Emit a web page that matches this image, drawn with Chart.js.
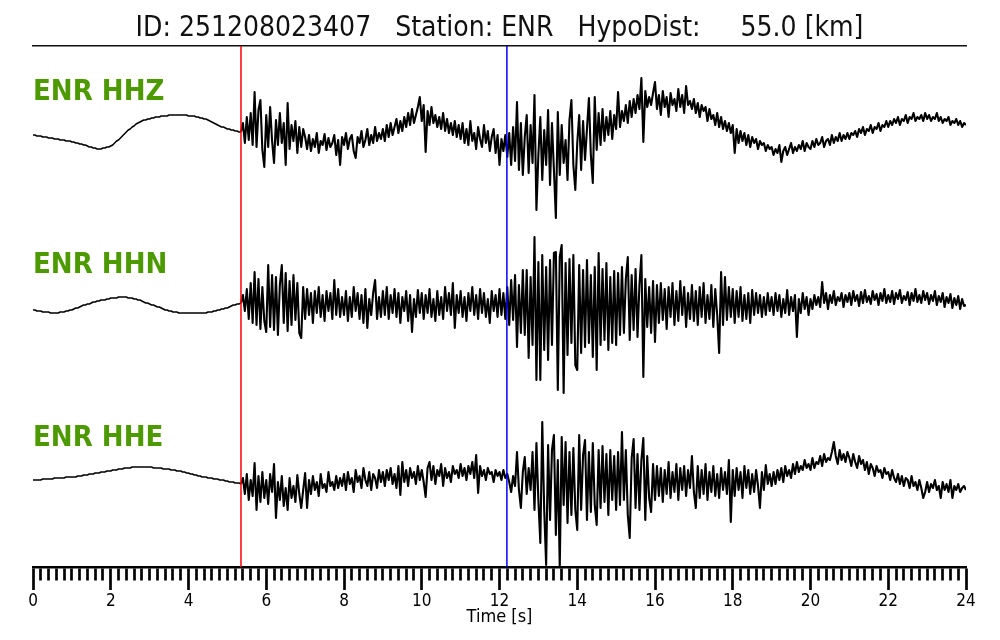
<!DOCTYPE html>
<html>
<head>
<meta charset="utf-8">
<script src="https://cdn.jsdelivr.net/npm/chart.js@4.4.1/dist/chart.umd.min.js"></script>
<style>
    html, body { margin: 0; padding: 0; background: #fff; }
    #wrap { width: 1000px; height: 640px; position: relative; }
</style>
</head>
<body>
<div id="wrap"><canvas id="myChart"></canvas></div>
<script>
const titleText = 'ID: 251208023407   Station: ENR   HypoDist:     55.0 [km]';
const axisTitle = 'Time [s]';
const channelNames = ['ENR HHZ', 'ENR HHN', 'ENR HHE'];

const sampleRate = 20;   // samples per second
const timeMin = 0;
const timeMax = 24;
const pPick = 5.35;      // red marker
const sPick = 12.19;     // blue marker

// amplitudes, one row per second
const hhz = [
    0,0,-1,-1,-1,-2,-2,-2,-3,-3,-3,-4,-4,-4,-5,-5,-5,-6,-6,-6,
    -7,-7,-8,-8,-9,-9,-10,-10,-11,-12,-12,-13,-13,-14,-14,-14,-13,-13,-12,-12,
    -11,-10,-8,-6,-5,-3,-1,1,3,5,6,8,9,11,12,13,14,15,15,16,
    16,17,17,18,18,18,19,19,19,19,20,20,20,20,20,20,20,20,20,20,
    19,19,19,19,18,18,17,17,16,16,15,14,13,12,11,10,9,8,8,7,
    6,6,5,5,4,4,3,3,12,-8,18,-5,22,-10,43,-12,25,35,-15,-32,
    20,-12,28,-6,-28,15,-10,22,-8,12,-30,32,-14,10,-6,14,-18,8,-12,6,
    -2,-14,0,-16,-4,-12,2,-18,-6,-10,1,-15,-3,-12,-8,0,-20,-5,-30,-2,
    -10,2,-14,-4,0,-16,-23,-2,-8,4,-12,-5,6,-10,0,-8,8,-6,2,-4,
    6,-6,10,-2,12,0,8,16,2,14,4,18,8,22,10,26,12,20,28,38,
    14,30,-17,24,10,28,12,20,8,18,6,22,4,16,2,12,0,14,-2,10,
    -4,12,-8,6,-10,14,-6,2,-14,8,-4,-12,10,-8,4,-16,-2,6,-18,0,
    -30,-4,-16,0,-22,2,-30,8,-26,33,-35,12,-40,-2,20,-38,10,-28,40,-75,
    -20,18,-45,5,-30,25,-50,12,-35,-83,23,-40,10,-28,-5,-45,15,35,-30,-55,
    -8,20,-35,14,-25,6,37,-20,-48,38,-15,22,-10,26,-6,18,0,24,-4,20,
    6,43,8,24,14,30,12,34,18,36,22,40,26,57,-7,44,28,38,30,42,
    53,26,40,20,44,28,38,18,42,30,36,24,46,28,40,22,49,30,34,26,
    36,22,32,18,30,24,28,14,26,16,20,10,22,8,18,6,14,4,12,2,
    10,-18,6,-8,4,-6,2,-10,0,-12,-2,-8,-4,-14,-6,-10,-8,-16,-10,-14,
    -12,-20,-14,-18,-10,-27,-16,-12,-20,-14,-8,-18,-12,-16,-10,-14,-6,-16,-8,-12,
    -14,-6,-12,-4,-10,-8,-2,-12,-6,-4,-10,0,-8,-2,-6,2,-6,0,-4,2,
    -4,2,0,4,-2,6,2,8,0,6,4,10,2,8,6,12,4,10,8,14,
    8,14,10,16,12,18,10,16,14,20,12,18,16,22,14,18,16,20,14,22,
    16,20,14,18,16,22,14,18,12,16,14,18,10,14,12,16,10,14,8,12,
    10
];

const hhn = [
    -5,-5,-6,-6,-6,-7,-7,-7,-7,-8,-8,-8,-8,-8,-7,-7,-7,-6,-6,-5,
    -5,-4,-3,-3,-2,-1,0,0,1,1,2,3,3,4,4,5,5,5,6,6,
    7,7,7,7,8,8,8,8,8,7,7,7,6,6,5,5,4,3,2,2,
    1,0,0,-1,-2,-2,-3,-4,-5,-5,-6,-6,-7,-7,-7,-8,-8,-8,-8,-8,
    -8,-8,-8,-8,-8,-8,-8,-8,-8,-8,-7,-7,-7,-6,-6,-5,-5,-4,-4,-3,
    -3,-2,-1,0,0,1,1,2,10,-6,16,-14,22,-18,33,-20,26,-24,18,-16,
    -27,40,-22,30,-25,28,-30,20,40,-18,32,-26,24,-20,30,-15,22,-28,-33,18,
    -14,16,-10,12,-18,14,-8,18,-12,10,-16,14,-6,12,-14,25,-10,16,-12,8,
    -10,14,-16,8,-12,18,-6,12,-14,10,-18,16,-23,6,-10,12,25,-14,8,-12,
    14,-10,18,-14,10,-8,16,-12,12,-18,8,-6,14,-16,10,-27,6,-12,15,-8,
    12,-14,10,-8,16,-12,6,-16,14,-10,8,-14,18,-6,12,-10,22,-23,10,-8,
    14,-12,8,-16,12,-6,18,-10,10,-14,16,-8,12,-12,6,-18,14,-6,10,-12,
    16,-10,12,-14,18,-20,25,-15,30,-42,20,-28,35,-30,35,-53,28,-40,68,-75,
    43,-75,50,-45,38,-55,45,-40,52,53,-85,48,60,-88,42,-50,46,-38,50,-60,
    -65,40,-48,35,-42,45,-38,30,-52,38,-65,52,-40,36,-35,42,-45,28,-38,34,
    -40,32,-30,38,-28,26,48,-35,30,-25,36,-32,20,50,-72,26,-22,18,-28,24,
    -37,20,-18,22,-15,16,-24,18,-12,22,-20,14,-16,24,-10,18,-22,12,-14,20,
    -16,14,-20,18,-12,22,-18,10,-14,20,-22,16,-10,-48,33,-20,28,-15,18,-12,
    16,-18,14,-12,18,-16,10,-14,12,-18,15,-10,12,-8,10,-12,8,-10,12,-6,
    8,-10,12,-6,10,-12,6,-8,15,-10,8,-6,10,-32,6,-8,12,-4,8,-10,
    6,-4,10,0,8,-2,23,2,12,-4,10,2,14,0,8,4,12,-2,10,3,
    12,0,14,4,10,-1,13,2,15,3,9,1,14,5,11,0,12,4,16,2,
    10,3,14,1,12,6,15,2,9,5,13,0,12,4,16,3,10,2,14,5,
    12,1,10,4,14,0,9,3,12,-2,8,2,11,-3,7,0,9,-4,6,-1,
    0
];

const hhe = [
    0,0,0,0,0,1,1,1,1,1,1,2,2,2,2,2,2,3,3,3,
    3,3,3,4,4,4,5,5,5,6,6,6,7,7,7,8,8,8,9,9,
    9,10,10,10,11,11,11,12,12,12,12,13,13,13,13,13,13,13,13,13,
    13,13,12,12,12,12,12,11,11,11,11,10,10,10,9,9,9,8,8,7,
    7,6,6,5,5,4,4,3,3,3,2,2,2,1,1,1,0,0,0,-1,
    -1,-2,-2,-2,-3,-3,-3,-4,2,-14,6,-20,0,-16,17,-30,4,-22,8,-18,
    0,-24,6,-12,16,-38,-2,-20,4,-26,-8,-30,2,-18,-6,-22,5,-14,-28,-10,
    7,-28,0,-14,4,-10,-2,-16,6,-8,-4,-12,8,-6,-2,-10,4,-8,2,-6,
    6,-10,8,-4,2,-12,10,-2,4,-8,12,0,-6,8,-10,6,2,-8,10,-2,
    8,-6,10,0,12,-4,6,-8,14,-15,18,-2,10,-6,12,2,8,-4,14,0,
    10,-2,-17,12,18,0,14,-4,10,4,16,-6,12,2,8,-2,14,6,10,2,
    16,4,12,0,14,6,18,2,25,-13,14,4,10,0,12,6,8,-2,10,4,
    8,0,10,2,6,-2,-12,4,-6,28,-10,-28,8,23,-14,12,-10,28,-30,37,
    -20,-63,58,-30,-85,35,-40,30,45,-55,20,-87,43,-25,38,-43,28,-35,32,-30,
    -50,45,-30,25,40,-40,28,-32,37,-25,-45,30,-28,34,-22,26,-35,30,-20,24,
    -30,28,-25,48,-20,30,-35,-58,22,41,-28,26,-30,20,42,-40,24,-18,-32,16,
    -20,14,-16,12,-22,10,-14,18,-18,8,-12,16,-20,12,-10,14,-16,10,-8,24,
    -12,-28,14,-18,10,-14,16,-20,8,-12,14,-16,6,-18,12,-10,8,-14,20,-42,
    10,-16,12,-10,8,-18,14,-8,10,-14,6,-12,10,-6,-28,8,-10,15,-4,6,
    -6,8,-4,10,0,12,-2,14,4,10,2,16,6,18,8,14,10,20,12,16,
    10,22,12,18,16,24,14,26,18,22,20,28,38,24,16,30,20,26,18,28,
    22,14,26,18,12,24,16,20,10,18,6,16,12,4,14,8,10,2,12,6,
    8,0,10,2,-2,6,-4,4,-6,2,0,-8,4,-6,-2,-10,0,-8,-18,-12,
    -2,-12,-4,-8,0,-10,-6,-18,-2,-10,-4,-12,0,-18,-6,-10,-4,-12,-8,-6,
    -10
];

// vertical stacking of the three traces on the hidden y axis
const plotHeight = 521;
const traceBase = [432, 262, 87];
const labelLift = [43, 40, 42];

const fontFamily = "'DejaVu Sans Condensed', 'DejaVu Sans', sans-serif";
Chart.defaults.font.family = fontFamily;
Chart.defaults.color = '#000';

function toPoints(values, base) {
    return values.map((v, i) => ({ x: i / sampleRate, y: base + v }));
}

function pickLine(t) {
    return [{ x: t, y: 0 }, { x: t, y: plotHeight }];
}

function isMajor(value) {
    const r = Math.round(value);
    return Math.abs(value - r) < 1e-6 && r % 2 === 0;
}

const channelLabels = {
    id: 'channelLabels',
    afterDatasetsDraw(chart) {
        const { ctx, scales } = chart;
        ctx.save();
        ctx.font = 'bold 29px ' + fontFamily;
        ctx.fillStyle = '#4c9900';
        ctx.textBaseline = 'middle';
        ctx.textAlign = 'left';
        channelNames.forEach((name, k) => {
            ctx.fillText(name, scales.x.getPixelForValue(timeMin),
                scales.y.getPixelForValue(traceBase[k] + labelLift[k]));
        });
        ctx.restore();
    }
};

const traces = [hhz, hhn, hhe];

const ctx = document.getElementById('myChart').getContext('2d');
const myChart = new Chart(ctx, {
    type: 'line',
    data: {
        datasets: [
            { label: 'P', data: pickLine(pPick), borderColor: '#ff0000', borderWidth: 1.5, order: 0 },
            { label: 'S', data: pickLine(sPick), borderColor: '#0000ff', borderWidth: 1.5, order: 0 }
        ].concat(traces.map((vals, k) => ({
            label: channelNames[k],
            data: toPoints(vals, traceBase[k]),
            borderColor: '#000',
            borderWidth: 1.5,
            // the noisy part after the P pick is drawn heavier, like the dense trace in the picture
            segment: {
                borderWidth: c => (c.p0.parsed.x >= pPick - 0.01 ? 2.1 : 1.5)
            },
            order: 1
        })))
    },
    options: {
        responsive: true,
        maintainAspectRatio: false,
        animation: false,
        events: [],
        layout: { padding: { left: 33, right: 34, top: 0, bottom: 0 } },
        elements: {
            point: { radius: 0 },
            line: { tension: 0, borderJoinStyle: 'round' }
        },
        plugins: {
            legend: { display: false },
            tooltip: { enabled: false },
            title: {
                display: true,
                text: titleText,
                color: '#111',
                font: { size: 28, weight: 'normal', lineHeight: '34px' },
                padding: { top: 12, bottom: 0 }
            }
        },
        scales: {
            x: {
                type: 'linear',
                position: 'bottom',
                min: timeMin,
                max: timeMax,
                afterFit(scale) { scale.height = 73; },
                ticks: {
                    stepSize: 0.2,
                    autoSkip: false,
                    maxRotation: 0,
                    minRotation: 0,
                    padding: 1,
                    font: { size: 17 },
                    callback: function(value) {
                        return isMajor(value) ? String(Math.round(value)) : '';
                    }
                },
                grid: {
                    drawOnChartArea: false,
                    drawTicks: true,
                    tickLength: 23,
                    tickWidth: 2.7,
                    tickColor: '#000',
                    tickBorderDash: function(c) {
                        return (c.tick && isMajor(c.tick.value)) ? [] : [12, 40];
                    }
                },
                border: { display: true, color: '#000', width: 2.5 },
                title: {
                    display: true,
                    text: axisTitle,
                    font: { size: 18 },
                    padding: { top: 0, bottom: 12 }
                }
            },
            xTop: {
                type: 'linear',
                position: 'top',
                min: timeMin,
                max: timeMax,
                afterFit(scale) { scale.height = 0; },
                ticks: { display: false },
                grid: { display: false },
                border: { display: true, color: '#111', width: 1.5 }
            },
            y: {
                display: false,
                min: 0,
                max: plotHeight
            }
        }
    },
    plugins: [channelLabels]
});
</script>
</body>
</html>
